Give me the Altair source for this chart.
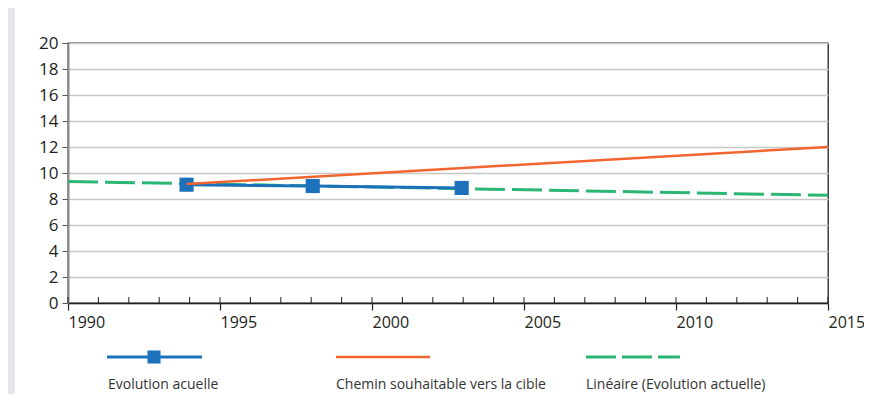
import altair as alt
import pandas as pd

# ---- data ----
years_actual = [1993.9, 1998.05, 2002.95]
values_actual = [9.1, 9.0, 8.85]
years_target = [1993.9, 2015]
values_target = [9.15, 12.0]
years_trend = [1990, 2015]
values_trend = [9.35, 8.28]
minor_years = list(range(1990, 2016))
x_tick_values = [1990, 1995, 2000, 2005, 2010, 2015]
y_tick_values = list(range(0, 21, 2))
legend_labels = ["Evolution acuelle", "Chemin souhaitable vers la cible",
                 "Linéaire (Evolution actuelle)"]

BLUE = "#1b72bb"
ORANGE = "#f26531"
GREEN = "#2bb673"
FONT = "Open Sans"
W, H = 760, 260

df_actual = pd.DataFrame({"year": years_actual, "value": values_actual})
df_target = pd.DataFrame({"year": years_target, "value": values_target})
df_trend = pd.DataFrame({"year": years_trend, "value": values_trend})
df_minor = pd.DataFrame({"year": minor_years})
one = pd.DataFrame({"k": [0]})

x_scale = alt.Scale(domain=[1990, 2015], nice=False, zero=False)
y_scale = alt.Scale(domain=[0, 20], nice=False)
x_axis = alt.Axis(values=x_tick_values, format="d", title=None, labelAlign="left",
                  labelFontSize=16, labelPadding=4, tickSize=7, grid=False,
                  domainColor="#231f20", domainWidth=1.5, tickColor="#231f20",
                  tickWidth=1.2, labelColor="#231f20", labelFont=FONT)
y_axis = alt.Axis(values=y_tick_values, title=None, labelFontSize=17, labelPadding=4,
                  tickSize=6, grid=True, gridColor="#c8c8c8", gridWidth=1.3,
                  domainColor="#8a8a8a", domainWidth=2, tickColor="#555555",
                  tickWidth=1, labelColor="#231f20", labelFont=FONT)

def xe():
    return alt.X("year:Q", scale=x_scale, axis=x_axis)

def ye():
    return alt.Y("value:Q", scale=y_scale, axis=y_axis)

strip = alt.Chart(one).mark_rect(color="#e6e7e8").encode(
    x=alt.value(-60), x2=alt.value(-53), y=alt.value(-35), y2=alt.value(H + 91))

minor = alt.Chart(df_minor).mark_rule(color="#231f20", strokeWidth=1).encode(
    x=alt.X("year:Q", scale=x_scale, axis=x_axis), y=alt.value(H - 6), y2=alt.value(H))

trend = alt.Chart(df_trend).mark_line(color=GREEN, strokeWidth=3, strokeDash=[30, 7]).encode(
    x=xe(), y=ye())
actual_line = alt.Chart(df_actual).mark_line(color=BLUE, strokeWidth=3).encode(x=xe(), y=ye())
actual_pts = alt.Chart(df_actual).mark_point(shape="square", filled=True, opacity=1,
                                             color=BLUE, size=200).encode(x=xe(), y=ye())
target = alt.Chart(df_target).mark_line(color=ORANGE, strokeWidth=2.5).encode(x=xe(), y=ye())

# ---- hand-drawn legend below the axis ----
LY = 314
LT = 342
leg1 = alt.Chart(one).mark_rule(color=BLUE, strokeWidth=3).encode(
    x=alt.value(39), x2=alt.value(134), y=alt.value(LY))
leg1p = alt.Chart(one).mark_point(shape="square", filled=True, opacity=1, color=BLUE,
                                  size=170).encode(x=alt.value(86), y=alt.value(LY))
leg2 = alt.Chart(one).mark_rule(color=ORANGE, strokeWidth=2.5).encode(
    x=alt.value(268), x2=alt.value(362), y=alt.value(LY))
leg3 = alt.Chart(one).mark_rule(color=GREEN, strokeWidth=3, strokeDash=[30, 6]).encode(
    x=alt.value(518), x2=alt.value(612), y=alt.value(LY))

def label(i, x):
    return alt.Chart(one).mark_text(align="left", baseline="middle", fontSize=14,
                                    font=FONT, color="#333333").encode(
        x=alt.value(x), y=alt.value(LT), text=alt.value(legend_labels[i]))

chart = alt.layer(
    strip, minor, trend, actual_line, actual_pts, target,
    leg1, leg1p, leg2, leg3, label(0, 40), label(1, 268), label(2, 518)
).properties(
    width=W, height=H,
    autosize=alt.AutoSizeParams(type="none"),
    padding={"left": 60, "top": 35, "right": 36, "bottom": 91},
    background="white",
).configure_view(stroke="#231f20", strokeWidth=1.3, fill="white")

chart.save("out.html", embed_options={"renderer": "svg", "actions": False})
